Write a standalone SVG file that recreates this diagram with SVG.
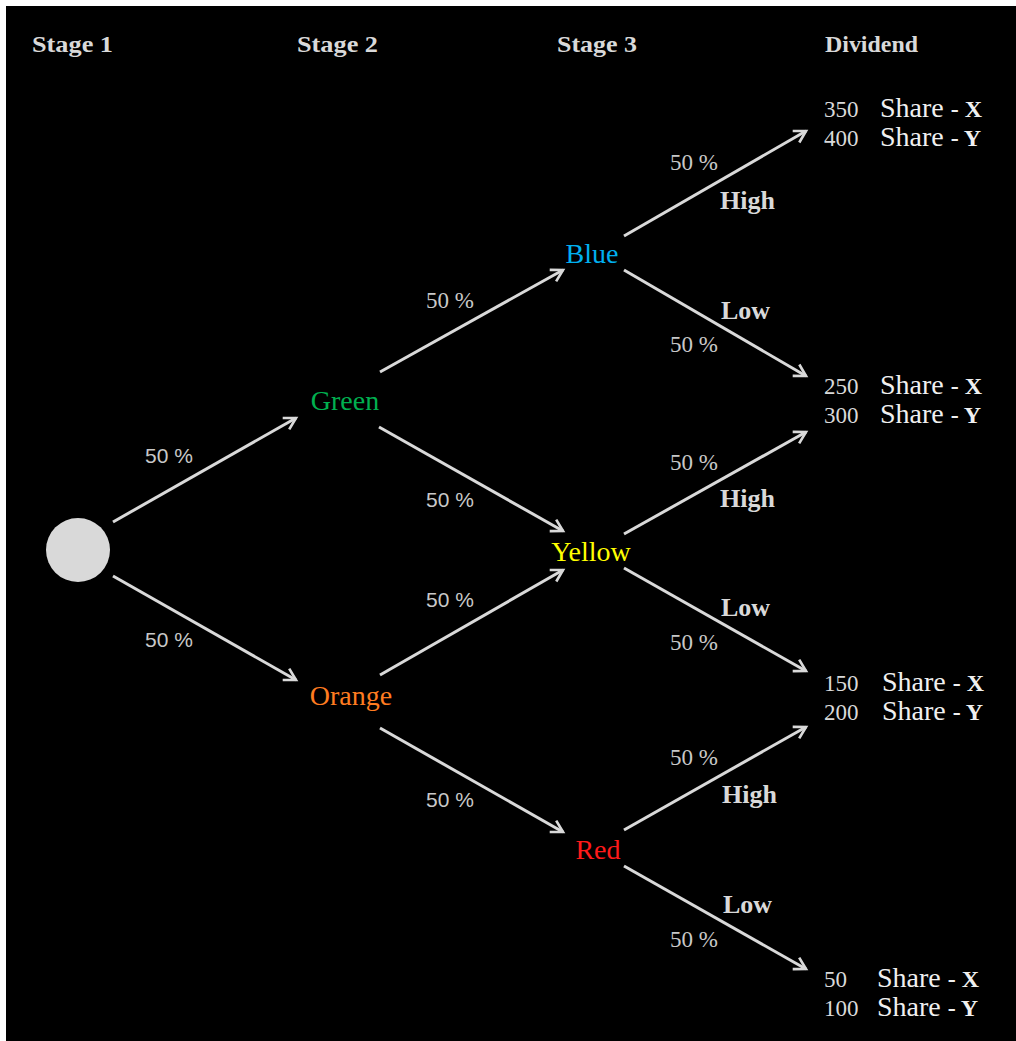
<svg xmlns="http://www.w3.org/2000/svg" width="1016" height="1041" viewBox="0 0 1016 1041">
<defs>
<style>
.hdr{font-family:"Liberation Serif",serif;font-weight:bold;font-size:24px;fill:#d9d9d9}
.pct{font-family:"Liberation Serif",serif;font-size:23px;fill:#c8c8c8}
.pcts{font-family:"Liberation Sans",sans-serif;font-size:21px;fill:#c8c8c8}
.hl{font-family:"Liberation Serif",serif;font-weight:bold;font-size:26px;fill:#d9d9d9}
.node{font-family:"Liberation Serif",serif;font-size:28px;text-anchor:middle}
.num{font-family:"Liberation Serif",serif;font-size:23px;fill:#d9d9d9}
.sh{font-family:"Liberation Serif",serif;font-size:28px;fill:#f0f0f0}
.shb{font-weight:bold;font-size:24px}
.conn line{stroke:#d9d9d9;stroke-width:3;marker-end:url(#ah)}
</style>
<marker id="ah" viewBox="0 0 10 10" refX="8" refY="5" markerWidth="5.5" markerHeight="5.5" orient="auto" markerUnits="strokeWidth">
<path d="M1,1 L8,5 L1,9" fill="none" stroke="#d9d9d9" stroke-width="1.6"/>
</marker>
</defs>
<rect x="0" y="0" width="1016" height="1041" fill="#ffffff"/>
<rect x="6" y="6" width="1010" height="1035" fill="#000000"/>
<g id="headers">
<text class="hdr" x="32" y="52" textLength="81" lengthAdjust="spacingAndGlyphs">Stage 1</text>
<text class="hdr" x="297" y="52" textLength="81" lengthAdjust="spacingAndGlyphs">Stage 2</text>
<text class="hdr" x="557" y="52" textLength="80" lengthAdjust="spacingAndGlyphs">Stage 3</text>
<text class="hdr" x="825" y="52" textLength="93" lengthAdjust="spacingAndGlyphs">Dividend</text>
</g>
<g id="connectors" class="conn">
<line x1="113" y1="522" x2="296" y2="418"/>
<line x1="113" y1="576" x2="296" y2="680"/>
<line x1="380" y1="372" x2="563" y2="270"/>
<line x1="379" y1="427" x2="563" y2="531"/>
<line x1="380" y1="675" x2="563" y2="570"/>
<line x1="380" y1="728" x2="563" y2="832"/>
<line x1="624" y1="236" x2="806" y2="131"/>
<line x1="624" y1="270" x2="806" y2="376"/>
<line x1="624" y1="534" x2="806" y2="432"/>
<line x1="624" y1="568" x2="806" y2="671"/>
<line x1="624" y1="830" x2="806" y2="727"/>
<line x1="624" y1="866" x2="806" y2="969"/>
</g>
<g id="start"><circle cx="78" cy="550" r="32" fill="#d9d9d9"/></g>
<g id="green"><text class="node" x="345" y="410" fill="#00b050">Green</text></g>
<g id="orange"><text class="node" x="351" y="705" fill="#ff7c20">Orange</text></g>
<g id="blue"><text class="node" x="592" y="263" fill="#00b0f0">Blue</text></g>
<g id="yellow"><text class="node" x="591" y="561" fill="#ffff00">Yellow</text></g>
<g id="red"><text class="node" x="598" y="859" fill="#ff1a1a">Red</text></g>
<g id="probs">
<text class="pcts" x="145" y="463">50 %</text>
<text class="pcts" x="145" y="647">50 %</text>
<text class="pct" x="426" y="308">50 %</text>
<text class="pcts" x="426" y="507">50 %</text>
<text class="pcts" x="426" y="607">50 %</text>
<text class="pcts" x="426" y="807">50 %</text>
<text class="pct" x="670" y="170">50 %</text>
<text class="pct" x="670" y="352">50 %</text>
<text class="pct" x="670" y="470">50 %</text>
<text class="pct" x="670" y="650">50 %</text>
<text class="pct" x="670" y="765">50 %</text>
<text class="pct" x="670" y="947">50 %</text>
<text class="hl" x="720" y="209">High</text>
<text class="hl" x="721" y="319">Low</text>
<text class="hl" x="720" y="507">High</text>
<text class="hl" x="721" y="616">Low</text>
<text class="hl" x="722" y="803">High</text>
<text class="hl" x="723" y="913">Low</text>
</g>
<g id="div1">
<text class="num" x="824" y="117">350</text><text class="sh" x="880" y="117">Share <tspan class="shb">- X</tspan></text>
<text class="num" x="824" y="146">400</text><text class="sh" x="880" y="146">Share <tspan class="shb">- Y</tspan></text>
</g>
<g id="div2">
<text class="num" x="824" y="394">250</text><text class="sh" x="880" y="394">Share <tspan class="shb">- X</tspan></text>
<text class="num" x="824" y="423">300</text><text class="sh" x="880" y="423">Share <tspan class="shb">- Y</tspan></text>
</g>
<g id="div3">
<text class="num" x="824" y="691">150</text><text class="sh" x="882" y="691">Share <tspan class="shb">- X</tspan></text>
<text class="num" x="824" y="720">200</text><text class="sh" x="882" y="720">Share <tspan class="shb">- Y</tspan></text>
</g>
<g id="div4">
<text class="num" x="824" y="987">50</text><text class="sh" x="877" y="987">Share <tspan class="shb">- X</tspan></text>
<text class="num" x="824" y="1016">100</text><text class="sh" x="877" y="1016">Share <tspan class="shb">- Y</tspan></text>
</g>
</svg>
